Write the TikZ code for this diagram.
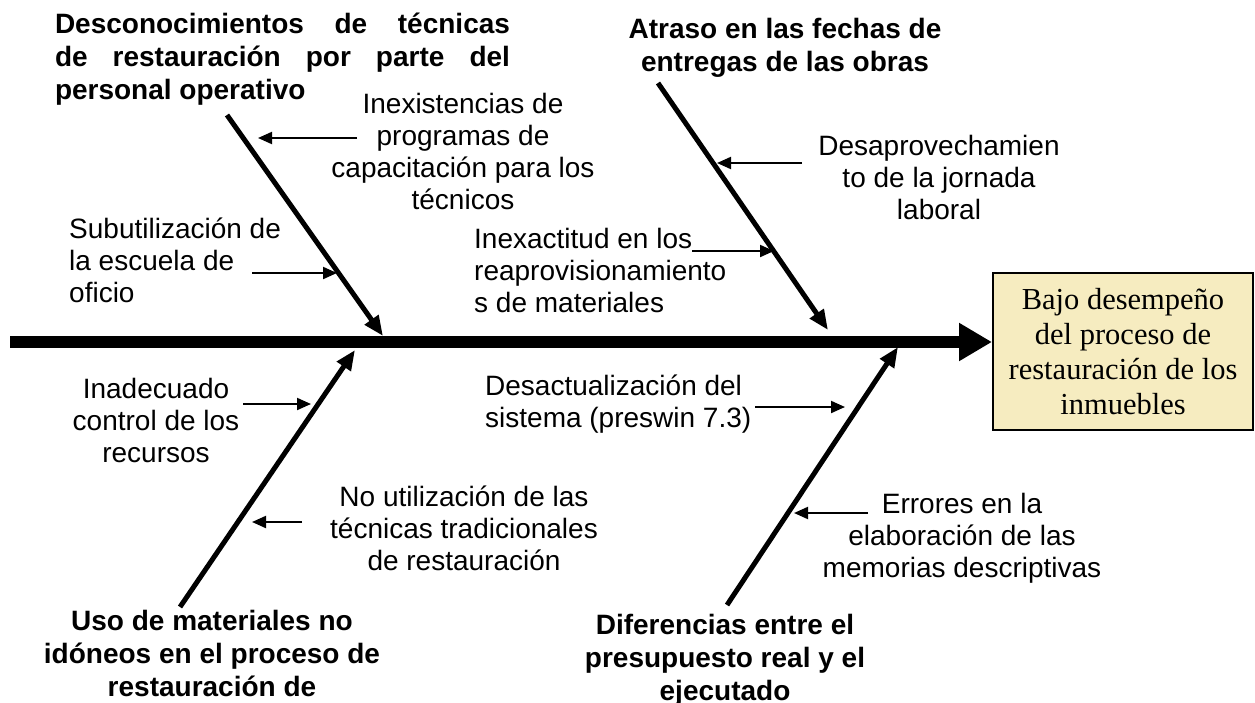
\documentclass[tikz,border=0pt]{standalone}
\usepackage{fontspec}
\setmainfont{Liberation Sans}
\newfontfamily\boxfont{Liberation Serif}
\usetikzlibrary{arrows.meta}
\definecolor{boxfill}{RGB}{246,236,192}
\begin{document}
\begin{tikzpicture}[x=1pt,y=-1pt,
  lbl/.style={font=\fontsize{28}{32}\selectfont, inner sep=0pt, align=center},
  lblL/.style={lbl, align=left},
  head/.style={font=\fontsize{28}{33}\selectfont\bfseries, inner sep=0pt, align=center},
  spine/.style={line width=12pt, -{Triangle[length=33pt,width=36pt]}},
  bone/.style={line width=5pt, -{Triangle[length=20pt,width=16pt]}},
  sub/.style={line width=2pt, -{Triangle[length=14pt,width=12pt]}},
  effect/.style={draw, line width=2pt, fill=boxfill, font=\boxfont\fontsize{30.5}{35}\selectfont,
    align=center, minimum width=260pt, minimum height=157pt, inner sep=0pt}]
\useasboundingbox (0,0) rectangle (1255,702);

% effect box and spine
\node[effect] (efecto) at (1123,351.5) {Bajo desempeño\\del proceso de\\restauración de los\\inmuebles};
\coordinate (s0) at (10,342);
\draw[spine] (s0) -- (s0 -| efecto.west);

% main bones
\coordinate (b1s) at (227,115); \coordinate (b1e) at (383,336);
\coordinate (b2s) at (658,83);  \coordinate (b2e) at (828,330);
\coordinate (b3s) at (180,607); \coordinate (b3e) at (355,350);
\coordinate (b4s) at (727,605); \coordinate (b4e) at (898,347);
\draw[bone] (b1s) -- (b1e);
\draw[bone] (b2s) -- (b2e);
\draw[bone] (b3s) -- (b3e);
\draw[bone] (b4s) -- (b4e);

% sub-cause arrows
\coordinate (a1s) at (357,138); \coordinate (a1e) at (258,138);
\coordinate (a2s) at (252,273); \coordinate (a2e) at (337,273);
\coordinate (a3s) at (692,251); \coordinate (a3e) at (774,251);
\coordinate (a4s) at (802,163); \coordinate (a4e) at (717,163);
\coordinate (a5s) at (243,404); \coordinate (a5e) at (311,404);
\coordinate (a6s) at (302,522); \coordinate (a6e) at (252,522);
\coordinate (a7s) at (755,407); \coordinate (a7e) at (845,407);
\coordinate (a8s) at (868,513); \coordinate (a8e) at (794,513);
\foreach \i in {1,...,8} {\draw[sub] (a\i s) -- (a\i e);}

% main causes (bold)
\node[head, align=left] (c1) at (282.5,59.5)
  {\makebox[455pt][s]{Desconocimientos de técnicas}\\
   \makebox[455pt][s]{de restauración por parte del}\\
   personal operativo};
\node[head] (c2) at (785,48) {Atraso en las fechas de\\entregas de las obras};
\node[head] (c3) at (212,653.5) {Uso de materiales no\\idóneos en el proceso de\\restauración de};
\node[head] (c4) at (725,660) {Diferencias entre el\\presupuesto real y el\\ejecutado};

% sub causes
\node[lbl] (t1) at (463,151.5) {Inexistencias de\\programas de\\capacitación para los\\técnicos};
\node[lblL, anchor=west] (t2) at (69,260.5) {Subutilización de\\la escuela de\\oficio};
\node[lblL, anchor=west] (t3) at (474,270.5) {Inexactitud en los\\reaprovisionamiento\\s de materiales};
\node[lbl] (t4) at (939,177.5) {Desaprovechamien\\to de la jornada\\laboral};
\node[lbl] (t5) at (156,420.5) {Inadecuado\\control de los\\recursos};
\node[lblL, anchor=west] (t6) at (485,404.5) {Desactualización del\\sistema (preswin 7.3)};
\node[lbl] (t7) at (464,528) {No utilización de las\\técnicas tradicionales\\de restauración};
\node[lbl] (t8) at (962,538.5) {Errores en la\\elaboración de las\\memorias descriptivas};
\end{tikzpicture}
\end{document}
